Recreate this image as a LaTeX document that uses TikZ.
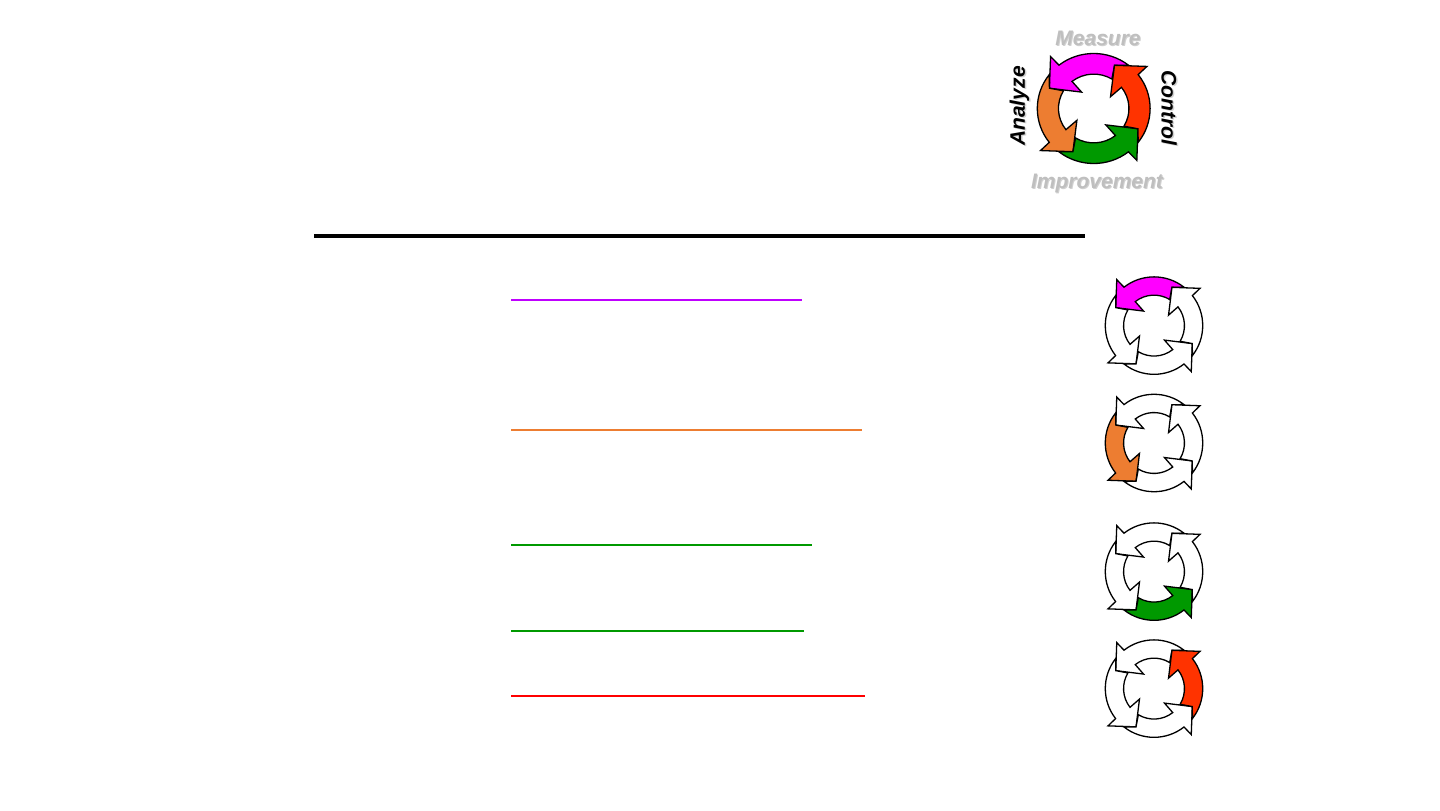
\documentclass[tikz,border=0pt]{standalone}
\usepackage{fontspec}
\setmainfont{Liberation Sans}
\definecolor{measurecol}{RGB}{255,0,255}
\definecolor{analyzecol}{RGB}{237,125,49}
\definecolor{improvecol}{RGB}{0,153,0}
\definecolor{controlcol}{RGB}{255,51,0}
\definecolor{purpleline}{RGB}{191,0,255}
\definecolor{redline}{RGB}{255,0,0}
\tikzset{
  cyclearrow/.style={draw=black,line width=.65pt,line join=miter},
  cyclelabel/.style={font=\fontsize{10.5}{12}\selectfont\bfseries\itshape,inner sep=0pt},
  lightlabel/.style={cyclelabel,text=black!25},
  darklabel/.style={cyclelabel,text=black},
  labelshadow/.style={cyclelabel,text=black!18},
  underline/.style={line width=.85pt}
}
% #1 centre, #2 xscale, #3 yscale, #4 list of angle/colour
\newcommand{\cycleicon}[4]{
\foreach \ang/\col in {#4}{
\begin{scope}[shift={#1},xscale=#2,yscale=#3,rotate=\ang]
\filldraw[cyclearrow,fill=\col] (52:48) arc[start angle=52,end angle=128,radius=48]
 --(-36.7,45.3)--(-37.7,17.7)--(-10.3,14.3)--(128:30)
 arc[start angle=128,end angle=59,radius=30]--(17.7,37.7)--cycle;
\end{scope}}}
\begin{document}
\begin{tikzpicture}[x=.5pt,y=.5pt]
\useasboundingbox (0,0) rectangle (1440,810);
\cycleicon{(1093.7,701.5)}{1.175}{1.146}{0/measurecol,90/analyzecol,180/improvecol,270/controlcol}
\node[labelshadow] (measureshadow) at (1099,771) {Measure};
\node[lightlabel] (measure) at (1098,772) {Measure};
\node[labelshadow] (improveshadow) at (1098,626) {Improvement};
\node[lightlabel] (improve) at (1097,627) {Improvement};
\node[labelshadow,rotate=90] (analyzeshadow) at (1021,703) {Analyze};
\node[darklabel,rotate=90] (analyze) at (1019.5,704) {Analyze};
\node[labelshadow,rotate=-90] (controlshadow) at (1170.5,701) {Control};
\node[darklabel,rotate=-90] (control) at (1169,702) {Control};
\draw[line width=2pt] (314,574)--(1085,574);
\draw[underline,purpleline] (511,510.2)--(802,510.2);
\draw[underline,analyzecol] (511,380.2)--(862,380.2);
\draw[underline,improvecol] (511,265)--(812,265);
\draw[underline,improvecol] (511,179)--(804,179);
\draw[underline,redline] (511,114.2)--(865,114.2);
\cycleicon{(1154,484.4)}{1.015}{1.015}{0/measurecol,90/white,180/white,270/white}
\cycleicon{(1154,367)}{1.015}{1.015}{0/white,90/analyzecol,180/white,270/white}
\cycleicon{(1154,238.4)}{1.015}{1.015}{0/white,90/white,180/improvecol,270/white}
\cycleicon{(1154,121.4)}{1.015}{1.015}{0/white,90/white,180/white,270/controlcol}
\end{tikzpicture}
\end{document}
